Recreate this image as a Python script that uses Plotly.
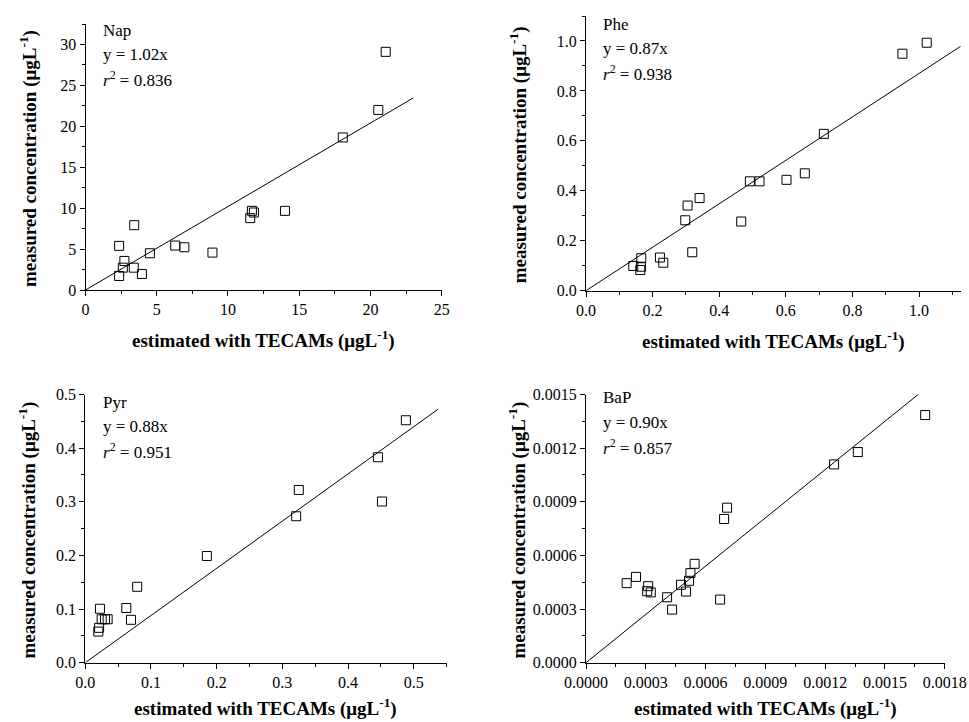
import plotly.graph_objects as go

W, H = 969, 722

# ---------------- data ----------------
nap_x = [2.36, 2.36, 2.73, 2.62, 3.39, 3.42, 3.96, 4.52, 6.30, 6.94, 8.91, 11.56, 11.68, 11.82, 14.0, 18.06, 20.55, 21.07]
nap_y = [5.39, 1.71, 3.55, 2.73, 2.73, 7.92, 1.96, 4.49, 5.43, 5.22, 4.57, 8.78, 9.67, 9.47, 9.67, 18.64, 22.0, 29.1]

phe_x = [0.142, 0.163, 0.165, 0.166, 0.222, 0.232, 0.298, 0.305, 0.319, 0.341, 0.466, 0.492, 0.521, 0.602, 0.657, 0.714, 0.950, 1.023]
phe_y = [0.099, 0.083, 0.096, 0.130, 0.133, 0.112, 0.282, 0.341, 0.154, 0.371, 0.277, 0.438, 0.438, 0.444, 0.470, 0.628, 0.949, 0.993]

pyr_x = [0.0198, 0.021, 0.0223, 0.0249, 0.030, 0.034, 0.0624, 0.0695, 0.079, 0.185, 0.321, 0.325, 0.4455, 0.4516, 0.488]
pyr_y = [0.058, 0.065, 0.1006, 0.081, 0.081, 0.081, 0.102, 0.080, 0.1415, 0.199, 0.273, 0.322, 0.383, 0.3005, 0.452]

bap_x = [0.000204, 0.000251, 0.000307, 0.000312, 0.000325, 0.000407, 0.000432, 0.000477, 0.000502, 0.000517,
         0.000524, 0.000545, 0.000673, 0.000693, 0.000708, 0.001245, 0.001364, 0.001702]
bap_y = [0.000445, 0.000480, 0.000400, 0.000428, 0.000393, 0.000366, 0.000297, 0.000436, 0.000398, 0.000458,
         0.000501, 0.000553, 0.000353, 0.000804, 0.000867, 0.001109, 0.001178, 0.001385]

names = ["Nap", "Phe", "Pyr", "BaP"]
slopes = [1.02, 0.87, 0.88, 0.90]
slope_labels = ["1.02", "0.87", "0.88", "0.90"]
r2_labels = ["0.836", "0.938", "0.951", "0.857"]
line_x_end = [23.0, 1.125, 0.537, 0.00168]

x_ranges = [[0, 25], [0, 1.125], [0, 0.55], [0, 0.0018]]
y_ranges = [[0, 32.5], [0, 1.1], [0, 0.5], [0, 0.0015]]
x_dticks = [5, 0.2, 0.1, 0.0003]
y_dticks = [5, 0.2, 0.1, 0.0003]
x_fmts = ["d", ".1f", ".1f", ".4f"]
y_fmts = ["d", ".1f", ".1f", ".4f"]

# panel pixel boxes in the target picture (left, right, top, bottom)
boxes = [(85.5, 441.7, 24, 290), (586, 960.7, 16, 290.7),
         (85.3, 446.6, 394.5, 662.7), (586, 944.7, 394.5, 662.7)]
text_pos = [(101, 30), (601, 24), (101, 402), (601, 398)]
xtitle_gap = [50, 50, 45, 45]

FONT = "Liberation Serif, Times New Roman, serif"


def px(v):
    return v / W


def py(v):
    return 1 - v / H


fig = go.Figure()
annotations = []
series = [(nap_x, nap_y), (phe_x, phe_y), (pyr_x, pyr_y), (bap_x, bap_y)]

for i, (xs, ys) in enumerate(series):
    ax = "" if i == 0 else str(i + 1)
    l, r, t, b = boxes[i]
    xd = [px(l), px(r)]
    yd = [py(b), py(t)]
    common = dict(showline=True, linecolor="black", linewidth=1, ticks="outside", ticklen=5,
                  tickcolor="black", showgrid=False, zeroline=False, mirror=False,
                  automargin=False,
                  tickfont=dict(family=FONT, size=16, color="black"),
                  minor=dict(ticks="outside", ticklen=3, tickcolor="black"))
    fig.update_layout(**{
        f"xaxis{ax}": dict(domain=xd, range=x_ranges[i], dtick=x_dticks[i], tick0=0,
                           tickformat=x_fmts[i], anchor=f"y{ax}",
                           minor_dtick=x_dticks[i] / 2, **common),
        f"yaxis{ax}": dict(domain=yd, range=y_ranges[i], dtick=y_dticks[i], tick0=0,
                           tickformat=y_fmts[i], anchor=f"x{ax}",
                           minor_dtick=y_dticks[i] / 2, **common),
    })
    fig.add_trace(go.Scatter(x=xs, y=ys, mode="markers", xaxis=f"x{ax}", yaxis=f"y{ax}",
                             marker=dict(symbol="square-open", size=9, color="black",
                                         line=dict(width=1, color="black")),
                             showlegend=False, cliponaxis=False))
    xe = line_x_end[i]
    fig.add_trace(go.Scatter(x=[0, xe], y=[0, slopes[i] * xe], mode="lines",
                             xaxis=f"x{ax}", yaxis=f"y{ax}",
                             line=dict(color="black", width=1), showlegend=False,
                             cliponaxis=False))
    tx, ty = text_pos[i]
    lines = [names[i], f"y = {slope_labels[i]}x", f"<i>r</i><sup>2</sup> = {r2_labels[i]}"]
    for k, s in enumerate(lines):
        annotations.append(dict(x=px(tx), y=py(ty + k * 24.5), xref="paper", yref="paper",
                                text=s, showarrow=False, xanchor="left", yanchor="middle",
                                font=dict(family=FONT, size=17, color="black")))
    # axis titles
    annotations.append(dict(x=px((l + r) / 2), y=py(b + xtitle_gap[i]), xref="paper", yref="paper",
                            text="<b>estimated with TECAMs (μgL<sup>-1</sup>)</b>", showarrow=False,
                            xanchor="center", yanchor="middle",
                            font=dict(family=FONT, size=19, color="black")))
    ytx = 28 if i % 2 == 0 else 518
    annotations.append(dict(x=px(ytx), y=py((t + b) / 2 + 2), xref="paper", yref="paper",
                            text="<b>measured concentration (μgL<sup>-1</sup>)</b>", showarrow=False,
                            textangle=-90, xanchor="center", yanchor="middle",
                            font=dict(family=FONT, size=19, color="black")))

fig.update_layout(width=W, height=H, margin=dict(l=0, r=0, t=0, b=0),
                  paper_bgcolor="white", plot_bgcolor="white",
                  annotations=annotations, showlegend=False, hovermode=False,
                  font=dict(family=FONT, color="black"))

fig.write_html("out.html", config={"displayModeBar": False},
               post_script="document.body.style.margin='0';document.body.style.overflow='hidden';")
